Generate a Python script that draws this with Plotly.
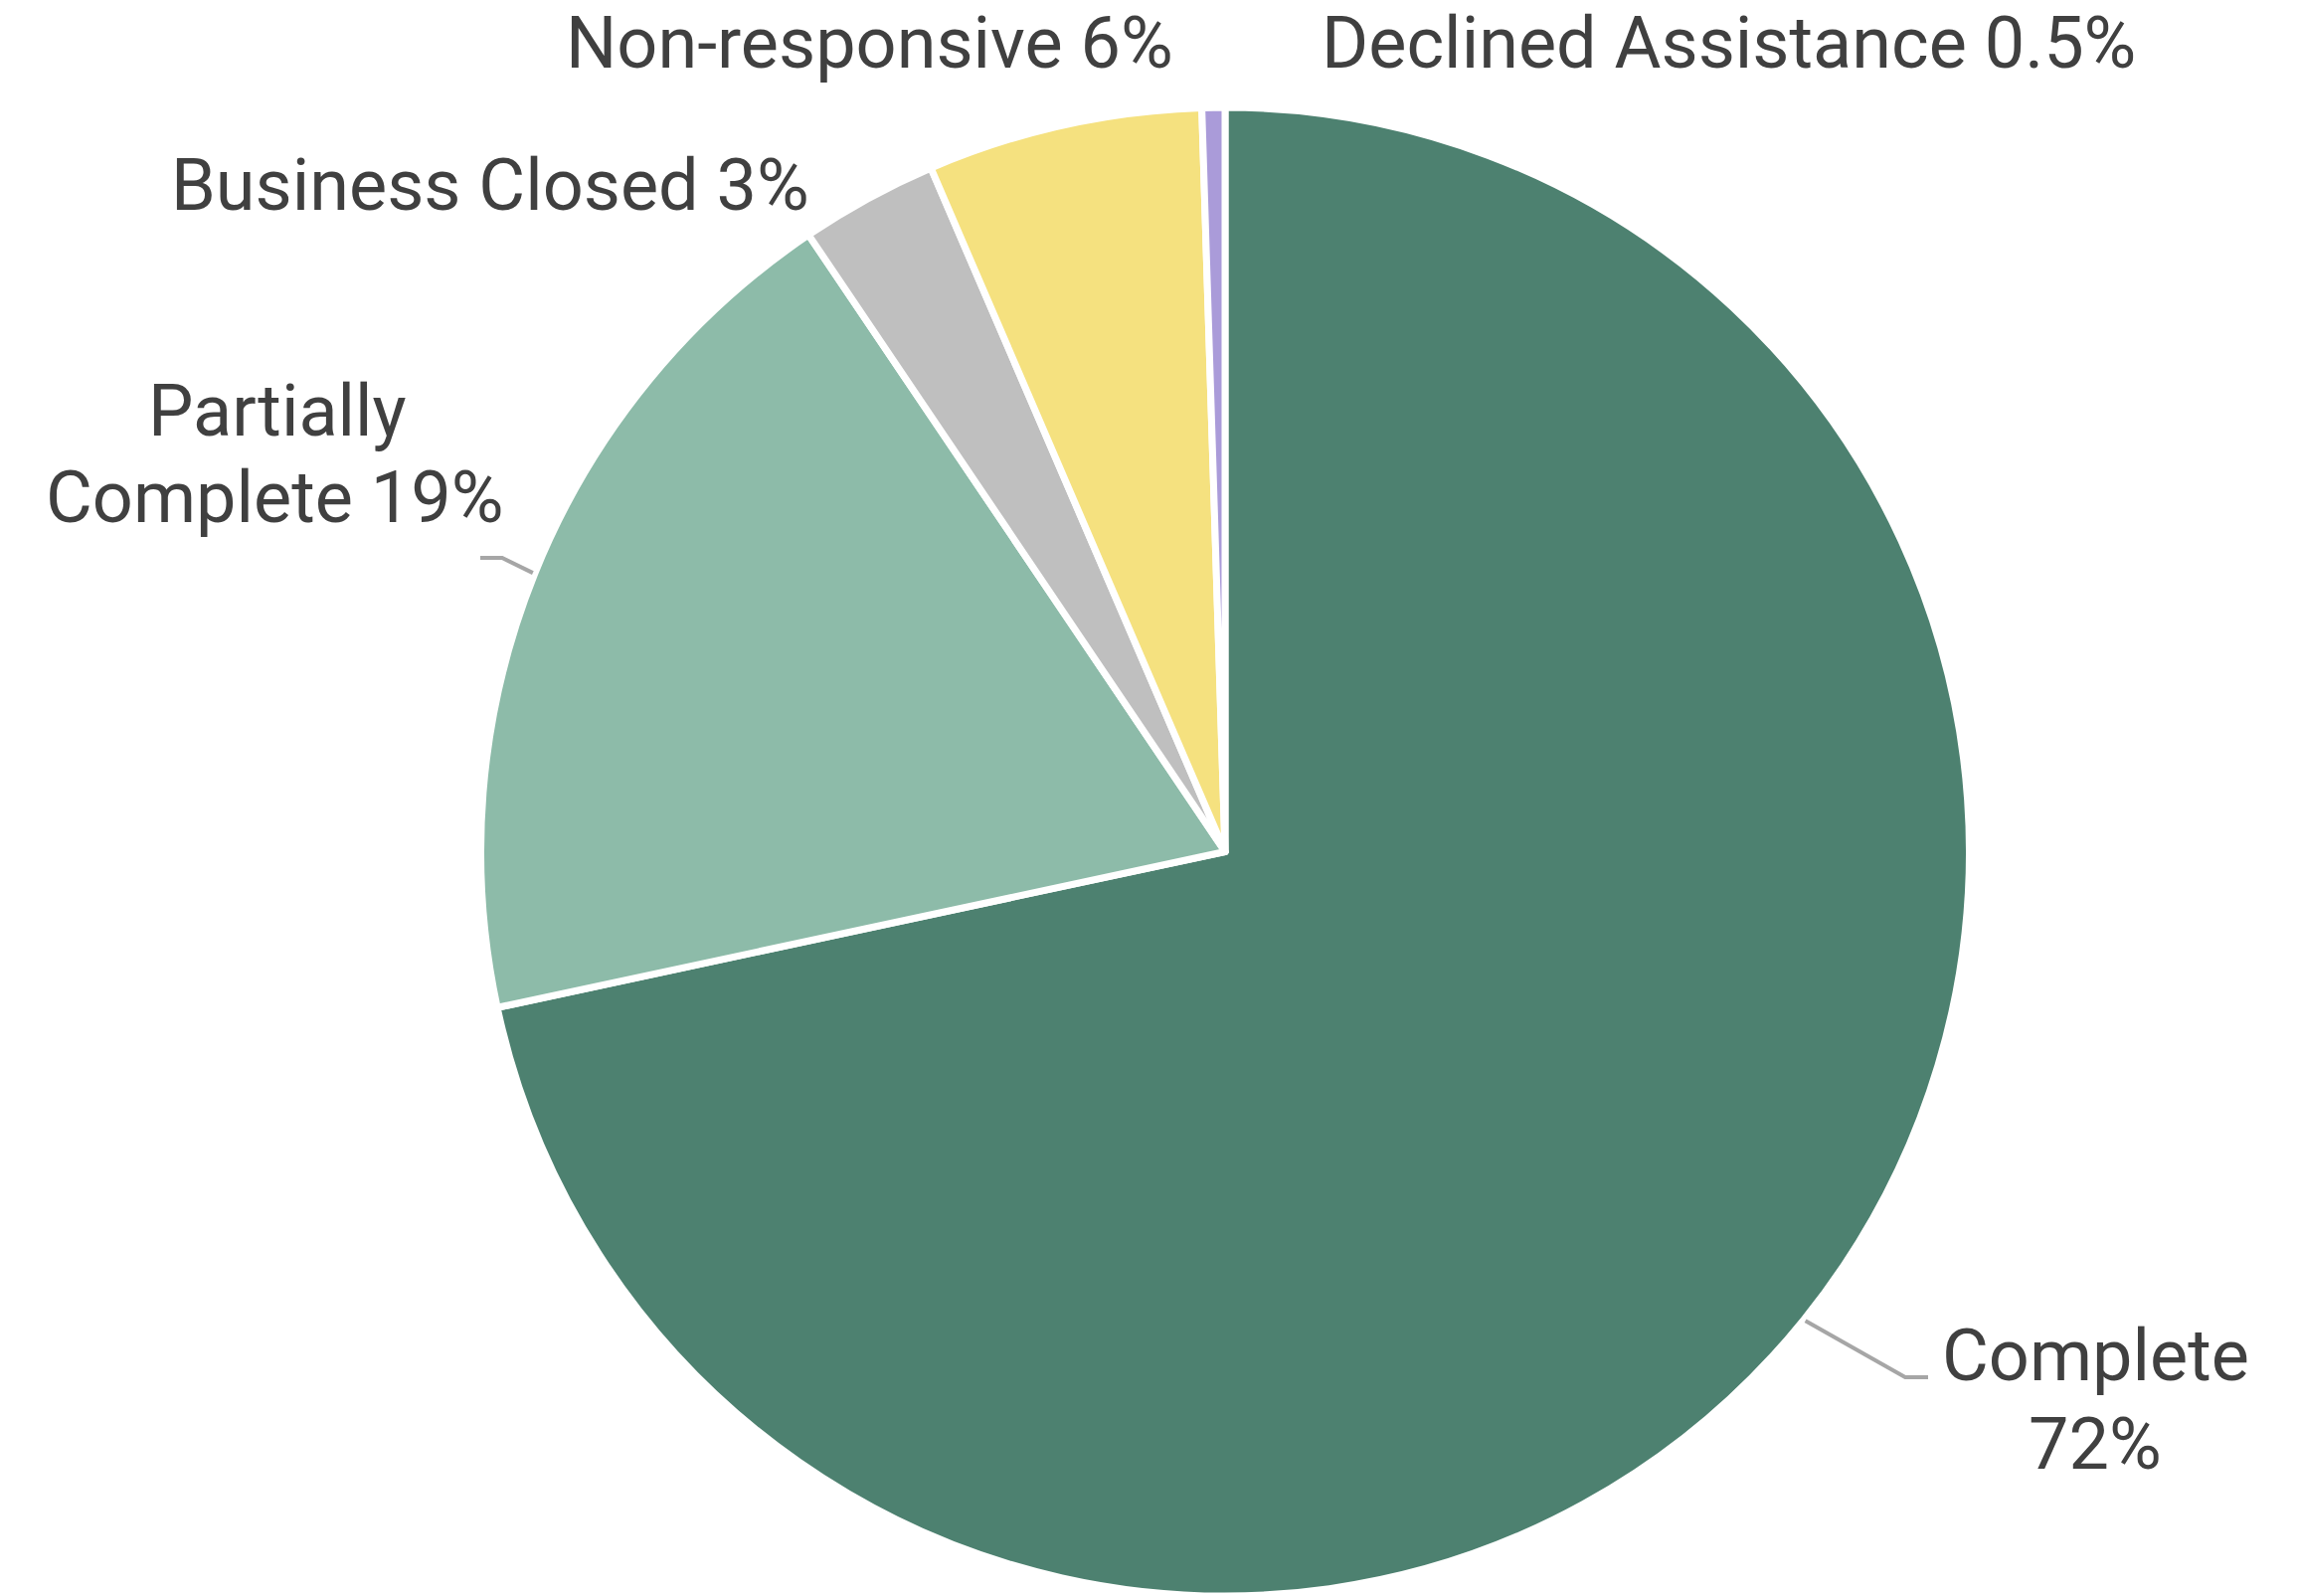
import math
import plotly.graph_objects as go

# Outcome categories and their shares (percent)
categories = ["Complete", "Partially Complete", "Business Closed", "Non-responsive", "Declined Assistance"]
shares = [72, 19, 3, 6, 0.5]
colors = ["#4D8170", "#8DBBA9", "#BFBFBF", "#F5E17F", "#AA9BD9"]

W, H = 2311, 1605
FONT = "Roboto"
FONT_SIZE = 72
TEXT_COLOR = "#404040"
LEADER_COLOR = "#A6A6A6"

# pie domain (paper fractions)
dom_x = [0.2086, 0.8576]
dom_y = [0.0, 0.9327]

fig = go.Figure(go.Pie(
    labels=categories,
    values=shares,
    sort=False,
    direction="clockwise",
    rotation=0,
    marker=dict(colors=colors, line=dict(color="white", width=7)),
    textinfo="none",
    hoverinfo="skip",
    showlegend=False,
    domain=dict(x=dom_x, y=dom_y),
))

# geometry of the pie in pixels, used to anchor the leader lines
cx = (dom_x[0] + dom_x[1]) / 2 * W
cy = (1 - (dom_y[0] + dom_y[1]) / 2) * H
radius = min((dom_x[1] - dom_x[0]) * W, (dom_y[1] - dom_y[0]) * H) / 2


def px_to_paper(x, y):
    return x / W, 1 - y / H


def mid_angle(i):
    total = sum(shares)
    start = sum(shares[:i]) / total
    return (start + shares[i] / total / 2) * 2 * math.pi


def edge_point(i, r):
    a = mid_angle(i)
    return cx + r * math.sin(a), cy - r * math.cos(a)


def pct(v):
    return f"{v:g}%"


annotations = []


def add_text(text, x, y):
    px, py = px_to_paper(x, y)
    annotations.append(dict(
        text=text, x=px, y=py, xref="paper", yref="paper",
        xanchor="center", yanchor="middle", showarrow=False, align="center",
        font=dict(family=FONT, size=FONT_SIZE, color=TEXT_COLOR),
    ))


# slice labels (each line placed separately)
add_text(categories[0], 2107, 1363)
add_text(pct(shares[0]), 2107, 1452)
add_text("Partially", 279, 413)
add_text(f"Complete {pct(shares[1])}", 276, 501)
add_text(f"{categories[2]} {pct(shares[2])}", 493, 187)
add_text(f"{categories[3]} {pct(shares[3])}", 874, 44)
add_text(f"{categories[4]} {pct(shares[4])}", 1738, 44)

# leader lines for the two large slices
shapes = []


def leader(i, elbow, end):
    sx, sy = edge_point(i, radius + 2)
    pts = [(sx, sy), elbow, end]
    path = "M " + " L ".join(f"{px_to_paper(x, y)[0]},{px_to_paper(x, y)[1]}" for x, y in pts)
    shapes.append(dict(type="path", path=path, xref="paper", yref="paper",
                       line=dict(color=LEADER_COLOR, width=4), fillcolor="rgba(0,0,0,0)"))


leader(0, (1916, 1385), (1939, 1385))
leader(1, (505, 561), (483, 561))

fig.update_layout(
    width=W, height=H,
    margin=dict(l=0, r=0, t=0, b=0),
    paper_bgcolor="white", plot_bgcolor="white",
    annotations=annotations, shapes=shapes,
)

fig.write_html("out.html")
